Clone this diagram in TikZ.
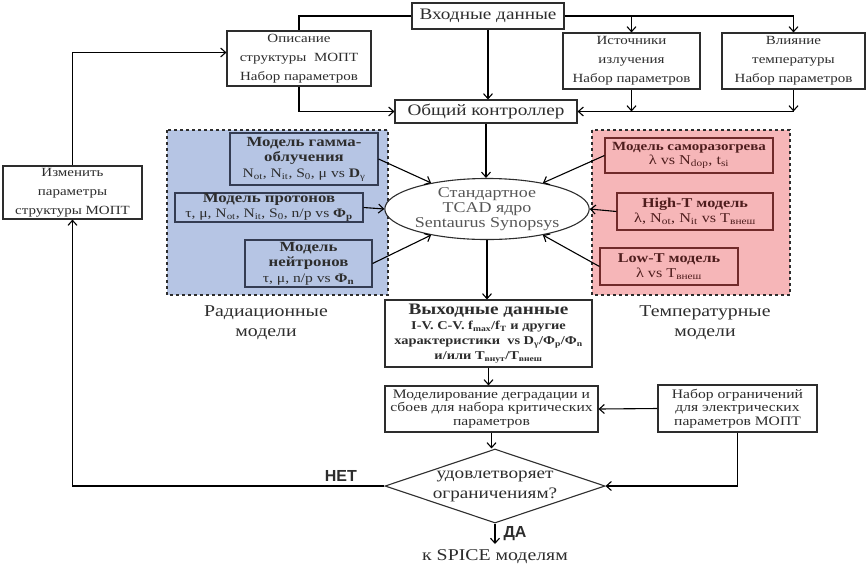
\documentclass[tikz,border=0pt]{standalone}
\usepackage{fontspec}
\setmainfont{Liberation Serif}[FakeStretch=1.2]
\newfontfamily\lblfont{Liberation Sans}
\usetikzlibrary{shapes.geometric,arrows.meta}
\definecolor{radfill}{RGB}{182,197,228}
\definecolor{raddraw}{RGB}{52,60,82}
\definecolor{tempfill}{RGB}{246,182,184}
\definecolor{tempdraw}{RGB}{112,42,42}
\definecolor{ink}{RGB}{45,45,45}
\newcommand{\mhead}[1]{{\bfseries\fontsize{14}{15.5}\selectfont #1}}
\newcommand{\thead}[1]{{\bfseries\fontsize{12.5}{14}\selectfont #1}}

\begin{document}
\begin{tikzpicture}[
	x=1pt,y=-1pt,
	line width=1.1pt,
	>={Straight Barb[length=5pt,width=9pt]},
	every node/.style={text=ink,align=center,inner sep=0pt},
	box/.style={draw=ink,fill=white,font=\fontsize{12.5}{19}\selectfont},
	bigbox/.style={box,font=\fontsize{16}{18}\selectfont},
	radbox/.style={draw=raddraw,fill=radfill,font=\fontsize{13}{15.5}\selectfont},
	tempbox/.style={draw=tempdraw,fill=tempfill,text=tempdraw!70!black,font=\fontsize{13.5}{14.5}\selectfont},
	region/.style={line width=1.6pt,draw=ink,dash pattern=on 3pt off 3pt},
	caption/.style={font=\fontsize{16.5}{20}\selectfont},
	lbl/.style={font=\lblfont\bfseries\fontsize{16}{18}\selectfont}
]
\useasboundingbox (0,0) rectangle (866,566);

% top row
\node[bigbox,minimum width=152,minimum height=26] (inp) at (488,16) {Входные данные};
\node[box,minimum width=144,minimum height=55] (descr) at (299,58.5) {Описание\\структуры~ МОПТ\\Набор параметров};
\node[box,minimum width=137,minimum height=56] (src) at (631.5,61) {Источники\\излучения\\Набор параметров};
\node[box,minimum width=143,minimum height=56] (temp) at (793.5,61) {Влияние\\температуры\\Набор параметров};
\node[bigbox,minimum width=182,minimum height=23] (ctrl) at (486,111.5) {Общий контроллер};
\node[box,minimum width=139,minimum height=53] (change) at (72.5,192.5) {Изменить\\параметры\\структуры МОПТ};

% model groups
\draw[region,fill=radfill] (167,130) rectangle (388,295);
\draw[region,fill=tempfill] (592,130) rectangle (790,295);
\node[radbox,minimum width=148,minimum height=52] (gamma) at (304,159) {\mhead{Модель гамма-}\\\mhead{облучения}\\N\textsubscript{ot}, N\textsubscript{it}, S\textsubscript{0}, μ vs \textbf{D}\textsubscript{γ}};
\node[radbox,minimum width=188,minimum height=29] (proton) at (269,207.5) {\mhead{Модель протонов}\\τ, μ, N\textsubscript{ot}, N\textsubscript{it}, S\textsubscript{0}, n/p vs \textbf{Φ}\textsubscript{\textbf{p}}};
\node[radbox,minimum width=127,minimum height=47] (neutron) at (308.5,263.5) {\mhead{Модель}\\\mhead{нейтронов}\\τ, μ, n/p vs \textbf{Φ}\textsubscript{\textbf{n}}};
\node[tempbox,minimum width=168,minimum height=35] (heat) at (689,155.5) {\thead{Модель саморазогрева}\\λ vs N\textsubscript{dop}, t\textsubscript{si}};
\node[tempbox,minimum width=156,minimum height=37] (hight) at (695,211.5) {\textbf{High-T модель}\\λ, N\textsubscript{ot}, N\textsubscript{it} vs T\textsubscript{внеш}};
\node[tempbox,minimum width=138,minimum height=37] (lowt) at (669,266.5) {\textbf{Low-T модель}\\λ vs T\textsubscript{внеш}};
\node[caption] (radlbl) at (266,323) {Радиационные\\модели};
\node[caption] (templbl) at (705,323) {Температурные\\модели};

\node[ellipse,draw=ink,fill=white,minimum width=177,minimum height=58,text=ink!80,font=\fontsize{15}{15}\selectfont] (core) at (487,209) {Стандартное\\TCAD ядро\\Sentaurus Synopsys};

% lower part
\node[box,minimum width=207,minimum height=67,font=\bfseries\fontsize{12}{15}\selectfont] (out) at (488.5,333.5) {{\fontsize{16}{18}\selectfont Выходные данные}\\I-V. C-V. f\textsubscript{max}/f\textsubscript{T} и другие\\характеристики~ vs D\textsubscript{γ}/Φ\textsubscript{p}/Φ\textsubscript{n}\\и/или T\textsubscript{внут}/T\textsubscript{внеш}};
\node[box,minimum width=213,minimum height=46,font=\fontsize{13}{13.5}\selectfont] (degr) at (491.5,409) {Моделирование деградации и\\сбоев для набора критических\\параметров};
\node[box,minimum width=159,minimum height=47,font=\fontsize{13}{13.5}\selectfont] (limits) at (737.5,408.5) {Набор ограничений\\для электрических\\параметров МОПТ};
\node[diamond,draw=ink,fill=white,aspect=3,minimum width=220,minimum height=74,font=\fontsize{16}{20}\selectfont] (check) at (495,486) {удовлетворяет\\ограничениям?};
\coordinate (exit) at (495,544);
\node[caption] (spice) at (495,557) {к SPICE моделям};

% connectors
\draw (inp.west) -| (descr.north);
\draw[->] (inp.east) -| (temp.north);
\draw[->] (src.north |- inp.east) -- (src.north);
\draw[->] (inp.south) -- (inp.south |- ctrl.north);
\draw[->] (descr.south) |- (ctrl.west);
\coordinate (bus) at (temp.south |- ctrl.east);
\draw[->] (src.south) -- (src.south |- bus);
\draw[->] (temp.south) -- (bus);
\draw[->] (bus) -- (ctrl.east);
\draw[->] (ctrl.south) -- (ctrl.south |- core.north);
\draw[->] (gamma.east) -- (core.155);
\draw[->] (proton.east) -- (core.west);
\draw[->] (neutron.east) -- (core.205);
\draw[->] (heat.west) -- (core.25);
\draw[->] (hight.west) -- (core.east);
\draw[->] (lowt.west) -- (core.-25);
\draw[->] (core.south) -- (core.south |- out.north);
\draw[->] (out.south) -- (out.south |- degr.north);
\draw[->] (limits.west) -- (degr.east);
\draw[->] (degr.south) -- (degr.south |- check.north);
\draw[->] (limits.south) |- (check.east);
\draw[->] (check.west) -| node[lbl,pos=0.07,above=4pt] (no) {НЕТ} (change.south);
\draw[->] (change.north) |- ([yshift=6pt]descr.west);
\draw[->] (check.south) -- node[lbl,right=8pt] (yes) {ДА} (exit);
\end{tikzpicture}
\end{document}
